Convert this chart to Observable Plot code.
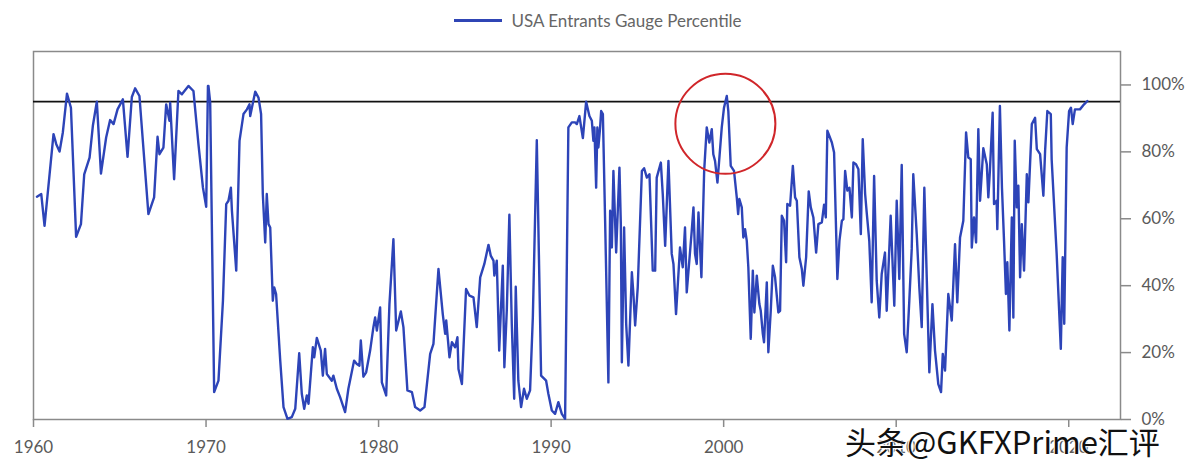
<!DOCTYPE html>
<html>
<head>
<meta charset="utf-8">
<script src="https://cdn.jsdelivr.net/npm/d3@7"></script>
<script src="https://cdn.jsdelivr.net/npm/@observablehq/plot@0.6"></script>
<style>
  html, body { margin: 0; padding: 0; background: #fff; }
  #wrap { position: relative; width: 1200px; height: 470px; overflow: hidden; }
  #legend { height: 40px; display: flex; align-items: center; justify-content: center; font-family: Lato, "Open Sans", sans-serif; font-weight: 400; font-size: 17px; color: #666; }
  #legend .sw { width: 48px; height: 3px; background: #2f45b5; margin-right: 9px; margin-left: -4px; }
  #wm { position: absolute; left: 845px; top: 424px; font-family: "Noto Sans CJK SC", sans-serif; font-size: 31px; line-height: 34px; color: #111; white-space: nowrap;
        text-shadow: 0 0 2px #fff, 0 0 2px #fff, 1px 1px 1px #fff, -1px -1px 1px #fff; }
</style>
</head>
<body>
<div id="wrap">
  <div id="legend"><span class="sw"></span><span>USA Entrants Gauge Percentile</span></div>
  <div id="chart"></div>
  <div id="wm">头条@GKFXPrime汇评</div>
</div>
<script>
const seriesName = "USA Entrants Gauge Percentile";
const xTicks = [1960, 1970, 1980, 1990, 2000, 2010, 2020];
const yTicks = [0, 20, 40, 60, 80, 100];
const threshold = 95;
const highlight = [{year: 2000.1, value: 88.4}];

const years = [
1960.2,1960.45,1960.64,1961.16,1961.32,1961.51,1961.70,1961.94,1962.17,1962.47,1962.75,1962.94,1963.25,1963.44,1963.67,1963.91,1964.21,1964.44,1964.64,1964.87,1965.18,1965.45,1965.70,1965.89,1966.14,1966.66,1966.99,1967.19,1967.30,1967.53,1967.69,1967.88,1967.92,1968.15,1968.40,1968.60,1968.98,1969.27,1969.56,1969.82,1970.01,1970.11,1970.14,1970.24,1970.47,1970.72,1970.98,1971.17,1971.30,1971.44,1971.50,1971.75,1971.94,1972.17,1972.37,1972.52,1972.56,1972.85,1973.04,1973.19,1973.29,1973.43,1973.52,1973.62,1973.72,1973.87,1973.95,1974.06,1974.30,1974.49,1974.72,1974.97,1975.17,1975.40,1975.55,1975.69,1975.84,1975.94,1976.19,1976.27,1976.42,1976.65,1976.77,1976.90,1977.00,1977.29,1977.38,1977.58,1977.77,1978.06,1978.25,1978.58,1978.74,1978.89,1978.97,1979.12,1979.28,1979.51,
1979.70,1979.80,1979.90,1980.09,1980.19,1980.44,1980.63,1980.86,1981.02,1981.29,1981.44,1981.67,1981.93,1982.12,1982.41,1982.66,1982.99,1983.18,1983.47,1983.72,1983.86,1983.92,1984.11,1984.25,1984.44,1984.57,1984.63,1984.83,1985.07,1985.27,1985.50,1985.69,1985.89,1986.13,1986.37,1986.50,1986.66,1986.71,1986.85,1986.99,1987.20,1987.29,1987.43,1987.58,1987.72,1987.86,1987.95,1988.10,1988.26,1988.43,1988.59,1988.78,1988.94,1989.17,1989.42,1989.71,1989.84,1990.04,1990.23,1990.42,1990.62,1990.81,1991.00,1991.20,1991.39,1991.49,1991.64,1991.84,1992.03,1992.22,1992.36,1992.45,1992.51,1992.61,1992.68,1992.74,1992.84,1992.90,1993.00,1993.13,1993.32,1993.42,1993.52,1993.61,1993.77,1993.96,1994.04,1994.10,1994.23,1994.35,1994.48,1994.68,1994.77,1994.87,1995.02,1995.26,1995.39,1995.55,1995.70,1995.89,1996.03,1996.12,1996.36,1996.47,1996.61,1996.80,1996.99,1997.09,1997.24,1997.47,1997.63,1997.76,1997.86,1998.01,1998.15,1998.25,1998.34,1998.44,1998.54,1998.71,1998.87,1999.02,1999.17,1999.31,1999.40,1999.50,1999.64,
1999.89,2000.02,2000.18,2000.27,2000.41,2000.60,2000.76,2000.84,2000.91,2001.05,2001.14,2001.24,2001.34,2001.43,2001.57,2001.69,2001.78,2001.92,2002.07,2002.15,2002.27,2002.34,2002.50,2002.59,2002.73,2002.85,2002.98,2003.17,2003.27,2003.37,2003.50,2003.62,2003.69,2003.85,2004.01,2004.14,2004.24,2004.39,2004.53,2004.62,2004.78,2004.93,2005.05,2005.20,2005.36,2005.49,2005.69,2005.82,2005.92,2006.01,2006.27,2006.40,2006.59,2006.71,2006.85,2006.94,2007.04,2007.17,2007.29,2007.43,2007.52,2007.67,2007.81,2007.95,2008.06,2008.20,2008.29,2008.44,2008.58,2008.72,2008.87,2009.02,2009.16,2009.35,2009.45,2009.68,2009.89,2010.03,2010.18,2010.32,2010.46,2010.61,2010.76,2010.90,2010.99,2011.19,2011.34,2011.48,2011.63,2011.77,2011.92,2012.10,2012.25,2012.44,2012.60,2012.70,2012.83,2013.02,2013.22,2013.41,2013.54,2013.70,2013.89,2014.05,2014.18,2014.32,2014.38,2014.51,2014.63,2014.76,2014.86,2015.05,2015.25,2015.34,2015.43,2015.59,2015.67,2015.82,2015.86,2016.01,2016.13,2016.25,2016.36,2016.44,2016.56,2016.70,2016.79,2016.87,2016.99,2017.08,2017.18,2017.28,2017.41,2017.57,2017.66,2017.86,2018.05,2018.15,2018.34,2018.53,2018.63,2018.76,2018.96,2019.01,2019.30,2019.54,2019.65,2019.74,2019.88,2020.02,2020.13,2020.23,2020.36,2020.65,2020.89,2021.08
];
const values = [
66.6,67.4,57.9,85.3,82.3,80.1,85.8,97.4,93.2,54.6,58.4,73.3,78.3,87.8,95.0,73.5,84.3,89.5,88.3,92.7,95.7,78.5,96.4,99.0,96.7,61.4,66.4,84.5,79.3,81.3,94.2,89.3,94.7,71.8,98.2,97.2,99.7,98.2,82.3,69.3,63.6,99.7,99.7,94.8,8.2,11.6,35.5,64.4,65.4,69.3,62.4,44.5,83.3,91.3,92.7,94.2,90.7,98.0,96.2,91.3,67.4,52.9,67.4,58.4,57.4,35.5,39.5,37.5,17.6,3.7,0.2,0.7,3.2,19.8,7.7,3.2,7.2,4.7,21.6,18.6,24.4,20.6,13.1,21.1,13.6,11.6,13.1,9.2,6.7,2.2,9.2,17.6,16.6,16.1,23.6,12.8,14.1,20.6,
27.6,30.5,26.6,33.5,11.1,7.2,34.5,53.9,26.6,32.3,27.6,8.7,8.2,3.7,2.7,3.7,19.6,22.6,45.0,31.5,25.6,29.6,18.6,23.1,21.6,24.6,15.1,10.6,39.0,37.0,36.5,27.6,42.5,46.5,52.2,49.0,47.5,43.0,47.5,20.6,46.0,15.6,32.5,61.2,28.6,6.2,39.7,11.6,3.7,9.2,6.2,8.7,30.5,83.5,13.1,11.6,7.7,2.7,1.7,5.2,1.7,0.2,87.3,88.8,88.8,88.3,90.7,84.1,95.0,90.7,89.3,83.3,87.3,69.3,87.3,81.3,87.3,92.2,91.3,59.4,11.1,62.4,51.4,74.3,49.9,75.3,58.4,17.1,57.4,28.6,16.1,44.0,37.5,28.1,39.5,74.3,75.1,72.3,73.3,44.5,44.5,72.3,76.8,67.4,51.9,77.3,49.5,46.5,31.5,51.4,45.5,57.4,38.0,47.5,56.4,63.4,49.5,46.5,61.9,42.5,74.3,87.3,82.8,86.8,79.3,77.3,70.8,
87.3,93.2,96.7,92.2,75.8,74.3,66.4,61.4,65.9,63.4,54.4,56.9,53.4,45.5,24.1,44.5,32.0,43.0,34.5,32.5,25.6,23.1,41.0,20.1,32.5,46.0,42.5,32.0,32.5,60.9,59.4,47.0,64.4,63.9,75.8,66.4,65.4,48.5,45.0,40.0,48.5,68.2,63.4,60.4,49.9,58.4,58.9,64.2,60.4,86.3,82.8,79.8,42.0,53.4,59.4,59.9,74.3,68.4,69.3,60.4,76.8,76.3,74.8,55.4,83.8,67.4,61.9,53.4,35.0,72.8,41.5,30.5,43.5,49.9,32.5,60.9,34.0,65.4,42.0,76.1,25.6,20.1,35.5,51.0,73.3,55.4,39.5,27.6,69.3,42.5,14.1,34.5,20.6,10.6,8.2,19.6,14.6,37.5,29.6,52.4,35.0,54.4,59.4,85.8,78.3,77.8,51.4,60.4,52.9,86.8,65.4,81.1,76.3,66.4,74.3,91.7,64.4,65.4,56.9,93.7,69.3,53.4,37.5,47.0,26.6,60.4,30.5,83.3,63.4,69.9,42.5,58.4,44.5,73.3,64.9,88.3,90.2,80.8,79.3,66.9,80.3,92.2,91.3,77.8,49.5,21.1,48.5,28.6,81.3,92.2,93.2,88.3,92.7,92.7,94.2,95.2
];

const data = years.map((y, i) => ({year: y, value: values[i], series: seriesName}));

const chart = Plot.plot({
  width: 1200,
  height: 430,
  marginLeft: 33,
  marginRight: 80,
  marginTop: 11,
  marginBottom: 51,
  x: {domain: [1960, 2023]},
  y: {domain: [0, 110]},
  style: {fontFamily: "Lato, 'Open Sans', sans-serif", fontWeight: 400, fontSize: "17px", color: "#5a5a5a", background: "white", overflow: "visible"},
  marks: [
    Plot.frame({stroke: "#8a8a8a", strokeWidth: 1.5}),
    Plot.axisX({ticks: xTicks, tickFormat: d => String(d), tickSize: 8, tickPadding: 13, stroke: "#8a8a8a", strokeWidth: 1.5, fill: "#5a5a5a", label: null, fontSize: 17}),
    Plot.axisY({anchor: "right", ticks: yTicks, tickFormat: d => d + "%", tickSize: 10, tickPadding: 11, stroke: "#8a8a8a", strokeWidth: 1.5, fill: "#5a5a5a", label: null, fontSize: 17}),
    Plot.ruleY([threshold], {stroke: "#111", strokeWidth: 1.8}),
    Plot.line(data, {x: "year", y: "value", stroke: "#2d44b8", strokeWidth: 2.4, strokeLinejoin: "round"}),
    Plot.dot(highlight, {x: "year", y: "value", r: 50, stroke: "#d0262a", strokeWidth: 2, fill: "none"})
  ]
});
document.getElementById("chart").appendChild(chart);
</script>
</body>
</html>
